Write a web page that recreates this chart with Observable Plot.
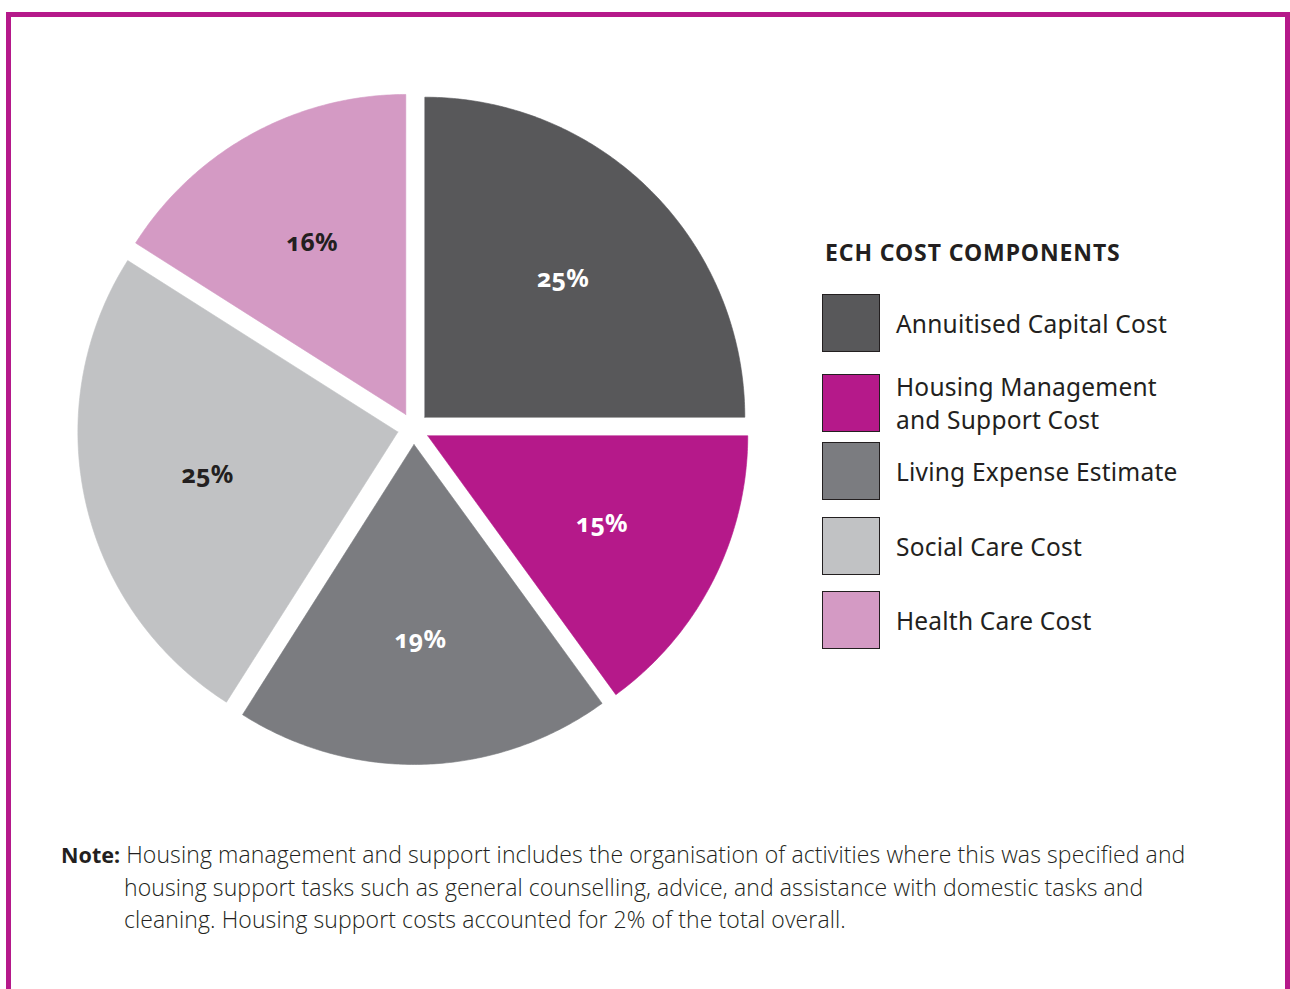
<!DOCTYPE html>
<html>
<head>
<meta charset="utf-8">
<script src="https://cdn.jsdelivr.net/npm/d3@7"></script>
<script src="https://cdn.jsdelivr.net/npm/@observablehq/plot@0.6"></script>
<style>
  html, body { margin: 0; padding: 0; background: #fff; }
  #page { position: relative; width: 1290px; height: 989px; overflow: hidden; font-family: "Noto Sans", "Open Sans", sans-serif; color: #231f20; }
  #frame { position: absolute; left: 6px; top: 12px; width: 1274px; height: 1100px; border: 5px solid #b5198a; border-bottom: none; }
  #chart { position: absolute; left: 0; top: 0; }
  #legend { position: absolute; left: 822px; top: 237px; width: 440px; white-space: nowrap; }
  #legend h3 { margin: 0 0 0 3px; font-size: 23px; font-weight: 700; letter-spacing: 0.9px; line-height: 30px; }
  .item { position: absolute; left: 0; display: flex; align-items: center; }
  .sw { width: 56px; height: 56px; border: 1.5px solid #231f20; box-sizing: content-box; flex: none; }
  .lab { margin-left: 16px; font-size: 24.5px; line-height: 33px; letter-spacing: 0.2px; }
  #note { position: absolute; left: 61px; top: 838px; font-size: 23px; line-height: 32px; font-weight: 300; font-family: "Open Sans", "Noto Sans", sans-serif; letter-spacing: 0.1px; white-space: nowrap; }
  #note b { font-weight: 700; font-size: 21.5px; font-family: "Noto Sans", sans-serif; letter-spacing: 0; }
  #note .ind { padding-left: 63px; }
</style>
</head>
<body>
<div id="page">
  <div id="frame"></div>
  <div id="chart"></div>
  <div id="legend"></div>
  <div id="note"></div>
</div>
<script>
// ---- data ----
const categories = ["Annuitised Capital Cost", "Housing Management and Support Cost", "Living Expense Estimate", "Social Care Cost", "Health Care Cost"];
const legendLines = [["Annuitised Capital Cost"], ["Housing Management", "and Support Cost"], ["Living Expense Estimate"], ["Social Care Cost"], ["Health Care Cost"]];
const shares = [25, 15, 19, 25, 16];
const shareLabels = ["25%", "15%", "19%", "25%", "16%"];
const colors = ["#58585a", "#b5198a", "#7b7c80", "#c1c2c4", "#d49ac4"];
const labelColors = ["#ffffff", "#ffffff", "#ffffff", "#231f20", "#231f20"];
const legendTitle = "ECH COST COMPONENTS";
const noteLines = [
  "Housing management and support includes the organisation of activities where this was specified and",
  "housing support tasks such as general counselling, advice, and assistance with domestic tasks and",
  "cleaning. Housing support costs accounted for 2% of the total overall."
];

// ---- layout ----
const R = 320, OFFSET = 16;
const CX = 413, CY = 428;
const W = 840, H = 860;

const arcs = d3.pie().sort(null).value(d => d)(shares);
const polys = [];
const labelPts = [];
arcs.forEach((a, i) => {
  const mid = (a.startAngle + a.endAngle) / 2;
  const ox = OFFSET * Math.sin(mid), oy = -OFFSET * Math.cos(mid);
  const n = Math.max(8, Math.ceil((a.endAngle - a.startAngle) / 0.01));
  let k = 0;
  polys.push({name: categories[i], x: ox, y: oy, k: k++});
  for (let j = 0; j <= n; j++) {
    const t = a.startAngle + (a.endAngle - a.startAngle) * j / n;
    polys.push({name: categories[i], x: ox + R * Math.sin(t), y: oy - R * Math.cos(t), k: k++});
  }
  polys.push({name: categories[i], x: ox, y: oy, k: k++});
  const lr = 0.61 * R;
  labelPts.push({name: categories[i], label: shareLabels[i], x: ox + lr * Math.sin(mid), y: oy - lr * Math.cos(mid), c: labelColors[i]});
});

const plot = Plot.plot({
  width: W, height: H,
  margin: 0,
  x: {domain: [-CX, W - CX], range: [0, W], axis: null},
  y: {domain: [-CY, H - CY], range: [0, H], axis: null},
  color: {domain: categories, range: colors},
  style: {background: "transparent"},
  marks: [
    Plot.line(polys, {x: "x", y: "y", z: "name", fill: "name", stroke: "name", strokeWidth: 0.6, curve: "linear"}),
    Plot.text(labelPts, {x: "x", y: "y", text: "label", fill: "c", fontSize: 25, fontWeight: 700, fontFamily: "Noto Sans", fontVariant: "oldstyle-nums"})
  ]
});
document.getElementById("chart").appendChild(plot);

// legend
const legend = document.getElementById("legend");
const h = document.createElement("h3");
h.textContent = legendTitle;
legend.appendChild(h);
const tops = [57, 133, 205, 280, 354];
categories.forEach((c, i) => {
  const it = document.createElement("div");
  it.className = "item";
  it.style.top = tops[i] + "px";
  const sw = document.createElement("div");
  sw.className = "sw";
  sw.style.background = colors[i];
  const lab = document.createElement("div");
  lab.className = "lab";
  lab.innerHTML = legendLines[i].join("<br>");
  it.appendChild(sw); it.appendChild(lab);
  legend.appendChild(it);
});

// note
const note = document.getElementById("note");
note.innerHTML = "<div><b>Note:</b> " + noteLines[0] + "</div>" +
  noteLines.slice(1).map(l => "<div class='ind'>" + l + "</div>").join("");
</script>
</body>
</html>
